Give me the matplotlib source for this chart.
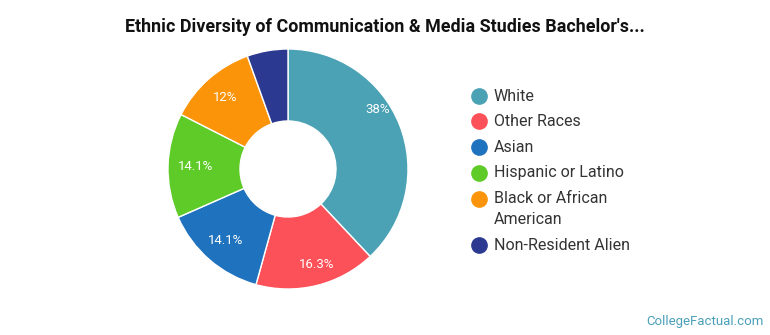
import numpy as np
import matplotlib.pyplot as plt

plt.rcParams['font.family'] = ['Roboto', 'DejaVu Sans']

# Data
labels = ['White', 'Other Races', 'Asian', 'Hispanic or Latino',
          'Black or African\nAmerican', 'Non-Resident Alien']
values = [38.0, 16.3, 14.1, 14.1, 12.0, 5.5]
pct_text = ['38%', '16.3%', '14.1%', '14.1%', '12%', '']
colors = ['#4aa2b4', '#fc5158', '#1f72bd', '#5fcb28', '#fb9408', '#2b3990']

# label placement tweaks (radius fraction, extra angle in degrees)
lab_r = [0.9, 0.83, 0.79, 0.77, 0.79, 0.8]
lab_da = [12, 3, 0, 0, 0, 0]

W, H = 770, 335
fig = plt.figure(figsize=(W / 100, H / 100), dpi=100)
ax = fig.add_axes([168 / W, 46 / H, 240 / W, 240 / H])

wedges, _ = ax.pie(values, colors=colors, startangle=90, counterclock=False,
                   radius=1.0, wedgeprops=dict(width=0.6, edgecolor='white', linewidth=1))
ax.set_xlim(-1.0, 1.0)
ax.set_ylim(-1.0, 1.0)
ax.set_aspect('equal')

start = 90.0
for v, t, r, da in zip(values, pct_text, lab_r, lab_da):
    ang = start - v / 100 * 360 / 2 + da
    start -= v / 100 * 360
    if t:
        ax.text(r * np.cos(np.radians(ang)), r * np.sin(np.radians(ang)), t,
                ha='center', va='center', color='white', fontsize=9.5)

fig.text(0.5, 1 - 27 / H, "Ethnic Diversity of Communication & Media Studies Bachelor's...",
         ha='center', va='center', fontsize=12.9, fontweight='bold', color='#111111')

# legend drawn by hand so row spacing matches
row_y = [96, 121, 147, 173, 209, 245]
for lab, c, y in zip(labels, colors, row_y):
    n = lab.count('\n')
    yc = y - 10 * n
    fig.lines.append(plt.Line2D([479 / W], [1 - yc / H], transform=fig.transFigure,
                                marker='o', markersize=11, color=c, linestyle=''))
    fig.text(494 / W, 1 - y / H, lab, ha='left', va='center', fontsize=11.5,
             color='#333333', linespacing=1.45)

fig.text(1 - 6 / W, 1 - 321 / H, 'CollegeFactual.com', ha='right', va='center',
         fontsize=9.5, color='#4a9fb8')

fig.savefig('out.png', dpi=100)
